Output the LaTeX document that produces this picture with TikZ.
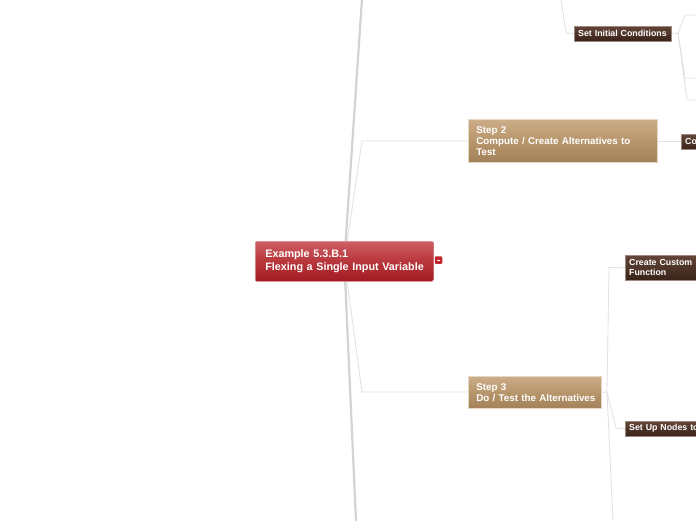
\documentclass[tikz,border=0pt]{standalone}
\usepackage{fontspec}
\setmainfont{Liberation Sans}
\usetikzlibrary{calc}
\definecolor{redtop}{HTML}{CD5E63}
\definecolor{redmid}{HTML}{B8363C}
\definecolor{redbot}{HTML}{A01C22}
\definecolor{redline}{HTML}{D68A8E}
\definecolor{tantop}{HTML}{CBAD88}
\definecolor{tanmid}{HTML}{B8966C}
\definecolor{tanbot}{HTML}{A3815A}
\definecolor{tanline}{HTML}{E6D7C3}
\definecolor{darktop}{HTML}{634538}
\definecolor{darkbot}{HTML}{3A231A}
\definecolor{darkline}{HTML}{9C8A82}
\definecolor{thickgray}{HTML}{D3D3D3}
\definecolor{thingray}{HTML}{E0E0E0}
\definecolor{iconred}{HTML}{C0262C}
\pgfdeclarelayer{bg}
\pgfsetlayers{bg,main}
\tikzset{
  mainbox/.style={anchor=north west, minimum width=178, minimum height=40,
    text width=158, inner xsep=10, inner ysep=0, align=left,
    font=\bfseries\fontsize{10.8}{13}\selectfont, text=white,
    draw=redline, line width=0.6, top color=redtop, bottom color=redbot, middle color=redmid,
    rounded corners=1.2},
  stepbox/.style={anchor=north west, inner xsep=8, inner ysep=0, align=left,
    font=\bfseries\fontsize{9.8}{11}\selectfont, text=white,
    draw=tanline, line width=0.6, top color=tantop, bottom color=tanbot, middle color=tanmid},
  leafbox/.style={anchor=north west, inner xsep=4, inner ysep=0, align=left,
    font=\bfseries\fontsize{8.8}{10}\selectfont, text=white,
    draw=darkline, line width=0.4, top color=darktop, bottom color=darkbot},
  thickconn/.style={draw=thickgray, line width=2.2},
  thinconn/.style={draw=thingray, line width=0.8},
  togglebox/.style={minimum width=7.5, minimum height=7.5, inner sep=0, fill=iconred, rounded corners=1},
}
\begin{document}
\begin{tikzpicture}[x=1pt,y=1pt]
\useasboundingbox (0,0) rectangle (696,-520);
\clip (0,0) rectangle (696,-520);

% nodes
\node[mainbox] (main) at (255,-241) {\mbox{Example 5.3.B.1}\\\mbox{Flexing a Single Input Variable}};
\node[togglebox] (tog) at (438.5,-260) {};
\draw[white, line width=0.8] ([xshift=-1.8]tog.center) -- ([xshift=1.8]tog.center);

\node[stepbox, minimum width=189, minimum height=43, text width=173] (step2) at (468,-119)
  {\mbox{Step 2}\\\mbox{Compute / Create Alternatives to}\\\mbox{Test}};
\node[stepbox, minimum width=133, minimum height=32, text width=117] (step3) at (468,-376)
  {\mbox{Step 3}\\\mbox{Do / Test the Alternatives}};

\node[leafbox, minimum width=97, minimum height=14.5, text width=89] (sic) at (574,-26)
  {\mbox{Set Initial Conditions}};
\node[leafbox, minimum width=90, minimum height=25, text width=82] (ccf) at (625,-255)
  {\mbox{Create Custom}\\\mbox{Function}};
\node[leafbox, minimum width=110, minimum height=14.5, text width=102] (sun) at (625,-421)
  {\mbox{Set Up Nodes to}};
\node[leafbox, minimum width=40, minimum height=15, text width=32] (co) at (681,-134)
  {\mbox{Co}};

% free ends and bends
\coordinate (topEnd) at (362,1);
\coordinate (botEnd) at (356,-521);
\coordinate (s2bend) at (362,-141);
\coordinate (s3bend) at (362,-392);
\coordinate (sicTop) at (561,1);
\coordinate (sicBend) at (566,-33);
\coordinate (sicFork) at (678,-33);
\coordinate (r1bend) at (685,-15);
\coordinate (r1) at (697,-15);
\coordinate (r2bend) at (685,-78);
\coordinate (r2) at (697,-78);
\coordinate (r3bend) at (687,-100);
\coordinate (r3) at (697,-100);
\coordinate (s3fork) at (607,-392);
\coordinate (ccfBend) at (609,-267.5);
\coordinate (sunBend) at (616,-428);
\coordinate (s3bot) at (613,-521);

\begin{pgfonlayer}{bg}
\fill[white] (0,0) rectangle (696,-520);
\draw[thickconn] (main.center) -- (topEnd);
\draw[thickconn] (main.center) -- (botEnd);
\draw[thinconn] (main.center) -- (s2bend) -- (s2bend -| step2.west);
\draw[thinconn] (main.center) -- (s3bend) -- (s3bend -| step3.west);
\draw[thinconn] (step2.east |- co.west) -- (co.west);
\draw[thinconn] (sicTop) -- (sicBend) -- (sic.west);
\draw[thinconn] (sic.east) -- (sicFork) -- (r1bend) -- (r1);
\draw[thinconn] (sicFork) -- (r2bend) -- (r2);
\draw[thinconn] (sicFork) -- (r3bend) -- (r3);
\draw[thinconn] (step3.east) -- (s3fork);
\draw[thinconn] (s3fork) -- (ccfBend) -- (ccf.west);
\draw[thinconn] (s3fork) -- (sunBend) -- (sun.west);
\draw[thinconn] (s3fork) -- (s3bot);
\end{pgfonlayer}
\end{tikzpicture}
\end{document}
